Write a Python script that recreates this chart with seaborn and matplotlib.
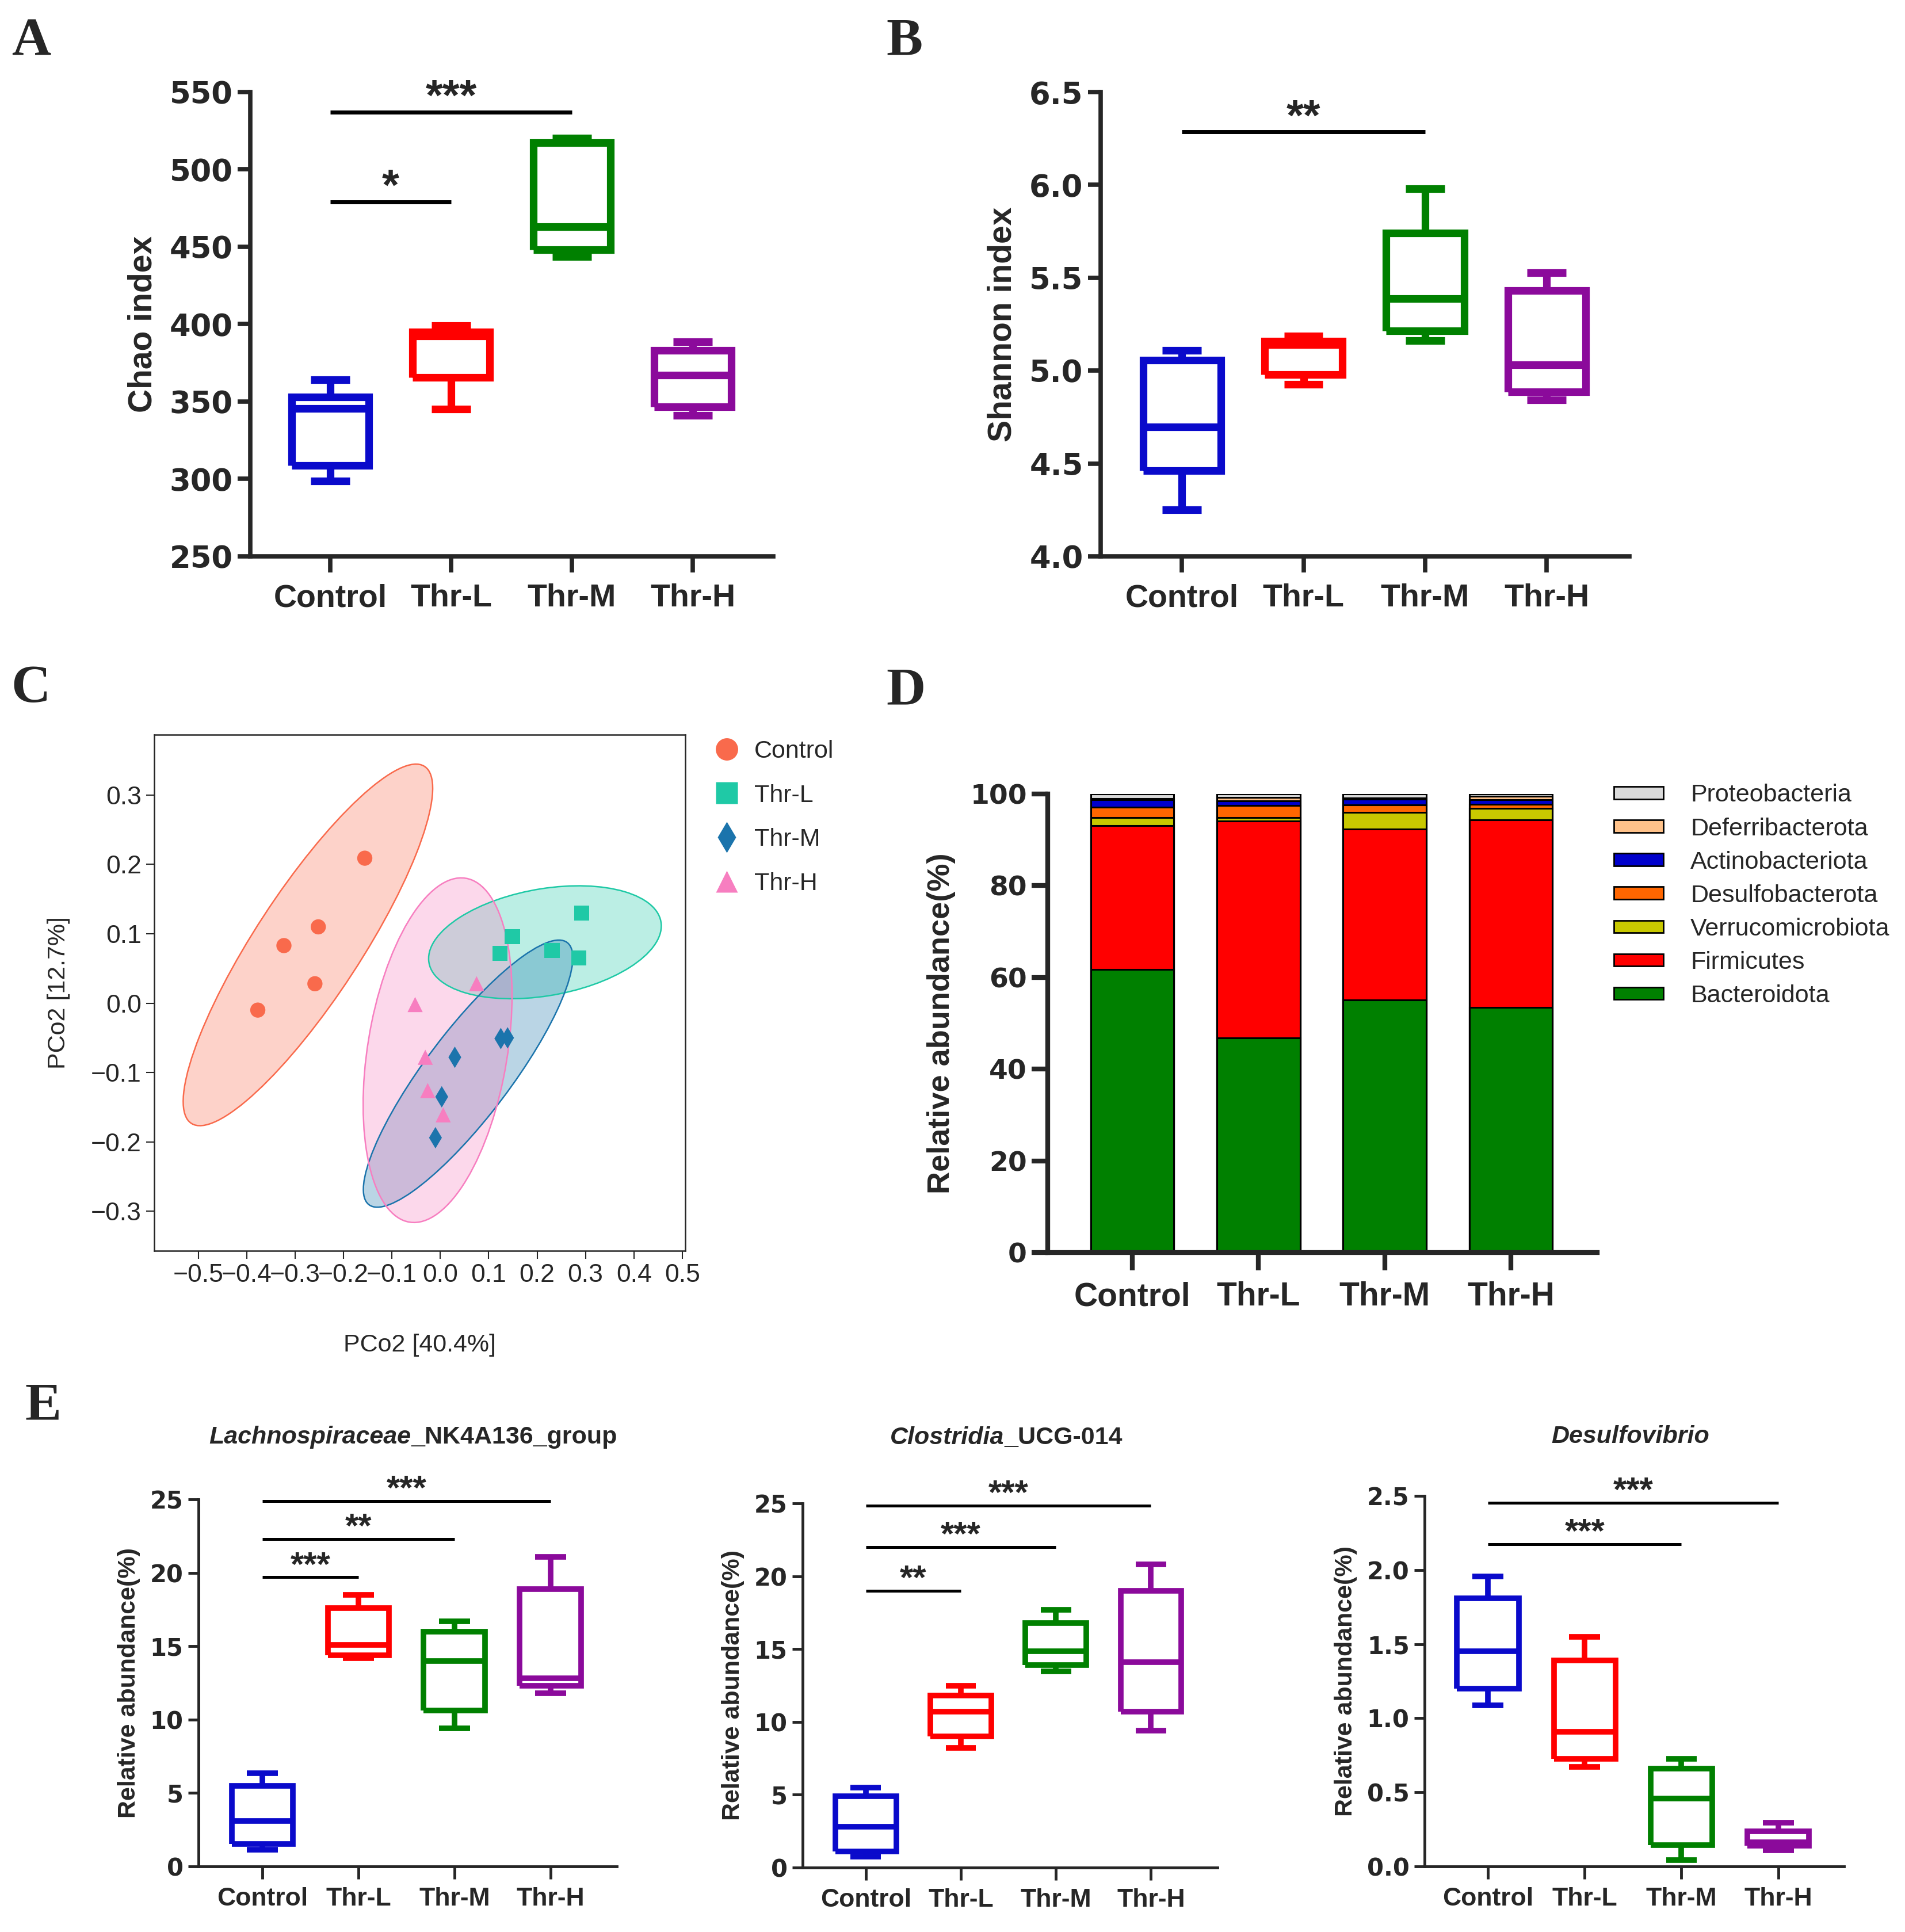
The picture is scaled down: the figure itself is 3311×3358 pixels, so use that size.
import numpy as np
import pandas as pd
import matplotlib
matplotlib.use("Agg")
import matplotlib.pyplot as plt
import seaborn as sns
from matplotlib.patches import Ellipse, Patch
from matplotlib.lines import Line2D
from matplotlib.offsetbox import TextArea, HPacker, AnchoredOffsetbox

sns.set_style("ticks")
plt.rcParams["font.family"] = ["Liberation Sans", "DejaVu Sans"]
plt.rcParams["axes.unicode_minus"] = True
NUMFONT = ["DejaVu Sans", "Liberation Sans"]

# ---------------- data ----------------
groups = ["Control", "Thr-L", "Thr-M", "Thr-H"]
box_colors = ["#0A0ACB", "#FF0000", "#008000", "#8B0A9B"]

# five readings per group: [min, Q1, median, Q3, max]
chao_control = [298.6, 308.8, 345.6, 353.0, 364.0]
chao_thrl = [345.0, 365.5, 392.4, 394.8, 399.0]
chao_thrm = [443.6, 448.0, 463.0, 517.3, 520.4]
chao_thrh = [341.0, 346.7, 367.0, 383.0, 388.7]

shannon_control = [4.252, 4.463, 4.696, 5.057, 5.109]
shannon_thrl = [4.926, 4.978, 5.140, 5.159, 5.185]
shannon_thrm = [5.163, 5.213, 5.387, 5.741, 5.980]
shannon_thrh = [4.843, 4.887, 5.033, 5.430, 5.528]

lachno_control = [1.15, 1.54, 3.1, 5.5, 6.36]
lachno_thrl = [14.2, 14.4, 15.1, 17.6, 18.5]
lachno_thrm = [9.4, 10.6, 14.0, 16.0, 16.7]
lachno_thrh = [11.8, 12.3, 12.8, 18.9, 21.1]

clost_control = [0.76, 1.1, 2.8, 4.9, 5.5]
clost_thrl = [8.2, 9.0, 10.7, 11.8, 12.5]
clost_thrm = [13.45, 13.9, 14.85, 16.8, 17.7]
clost_thrh = [9.4, 10.7, 14.1, 19.0, 20.8]

desulf_control = [1.088, 1.199, 1.453, 1.81, 1.955]
desulf_thrl = [0.67, 0.727, 0.91, 1.388, 1.55]
desulf_thrm = [0.044, 0.145, 0.458, 0.661, 0.727]
desulf_thrh = [0.109, 0.14, 0.162, 0.235, 0.296]

# significance: (group i, group j, y level, label)
sig_chao = [(0, 1, 479, "*"), (0, 2, 537, "***")]
sig_shannon = [(0, 2, 6.285, "**")]
sig_lachno = [(0, 1, 19.7, "***"), (0, 2, 22.3, "**"), (0, 3, 24.9, "***")]
sig_clost = [(0, 1, 19.0, "**"), (0, 2, 22.0, "***"), (0, 3, 24.85, "***")]
sig_desulf = [(0, 2, 2.175, "***"), (0, 3, 2.454, "***")]

# PCoA coordinates (5 samples per group)
pc_group = ["Control"] * 5 + ["Thr-L"] * 5 + ["Thr-M"] * 5 + ["Thr-H"] * 5
pc_x = [-0.156, -0.252, -0.323, -0.259, -0.377,
        0.292, 0.149, 0.123, 0.231, 0.286,
        0.125, 0.139, 0.030, 0.003, -0.010,
        0.075, -0.052, -0.031, -0.026, 0.006]
pc_y = [0.209, 0.110, 0.083, 0.028, -0.010,
        0.130, 0.096, 0.072, 0.076, 0.065,
        -0.051, -0.050, -0.078, -0.135, -0.194,
        0.028, -0.002, -0.078, -0.126, -0.161]
pc_colors = ["#F96A4C", "#1FC9A6", "#1B74AC", "#F77EC0"]
pc_markers = {"Control": "o", "Thr-L": "s", "Thr-M": "d", "Thr-H": "^"}

# relative abundance (%) of phyla, bottom to top
phyla = ["Bacteroidota", "Firmicutes", "Verrucomicrobiota", "Desulfobacterota",
         "Actinobacteriota", "Deferribacterota", "Proteobacteria"]
bacteroidota = [61.7, 46.8, 55.1, 53.4]
firmicutes = [31.4, 47.3, 37.3, 40.9]
verrucomicrobiota = [1.8, 0.8, 3.6, 2.6]
desulfobacterota = [2.2, 2.6, 1.6, 0.8]
actinobacteriota = [1.6, 1.0, 1.3, 1.0]
deferribacterota = [0.3, 0.8, 0.2, 0.8]
proteobacteria = [1.0, 0.7, 0.9, 0.5]
phyla_colors = ["#008000", "#FF0000", "#C8C800", "#FF6600", "#0000CC", "#FFC28A", "#DADADA"]

# ---------------- figure ----------------
W, H = 3311, 3358
fig = plt.figure(figsize=(W / 100, H / 100), dpi=100)


def add_ax(left, top, right, bottom):
    return fig.add_axes([left / W, 1 - bottom / H, (right - left) / W, (bottom - top) / H])


def box_panel(ax, vals, ylim, yticks, yfmt, ylabel, lw, spine_lw, box_w, fs_tick, fs_cat,
              fs_lab, labelpad, sigs, sig_lw, star_fs, star_off, xlim, ytl, xtl, xpad):
    df = pd.DataFrame({"group": np.repeat(groups, 5), "value": np.concatenate(vals)})
    sns.boxplot(data=df, x="group", y="value", hue="group", order=groups, hue_order=groups,
                palette=box_colors, fill=False, whis=(0, 100), width=box_w, linewidth=lw,
                saturation=1, legend=False, showfliers=False, ax=ax)
    for ln in ax.lines:
        ln.set_solid_joinstyle("miter")
        ln.set_solid_capstyle("butt")
    ax.set_xlim(*xlim)
    ax.set_ylim(*ylim)
    ax.set_yticks(yticks)
    ax.set_yticklabels([yfmt.format(t) for t in yticks], fontsize=fs_tick, fontweight="bold",
                       family=NUMFONT)
    ax.set_xticks(range(4))
    ax.set_xticklabels(groups, fontsize=fs_cat, fontweight="bold")
    ax.set_xlabel("")
    ax.set_ylabel(ylabel, fontsize=fs_lab, fontweight="bold", labelpad=labelpad)
    sns.despine(ax=ax)
    for s in ["left", "bottom"]:
        ax.spines[s].set_linewidth(spine_lw)
    ax.tick_params(axis="y", width=spine_lw, length=ytl, pad=6)
    ax.tick_params(axis="x", width=spine_lw, length=xtl, pad=xpad)
    for i, j, y, lab in sigs:
        ax.plot([i, j], [y, y], color="black", lw=sig_lw, clip_on=False, solid_capstyle="butt")
        ax.annotate(lab, xy=((i + j) / 2, y), xytext=(0, star_off), textcoords="offset points",
                    ha="center", va="baseline", fontsize=star_fs, fontweight="bold",
                    annotation_clip=False)


# Panel A
axA = add_ax(435, 160, 1344, 967)
box_panel(axA, [chao_control, chao_thrl, chao_thrm, chao_thrh], (250, 550),
          [250, 300, 350, 400, 450, 500, 550], "{:d}", "Chao index", 9.5, 5.5, 0.64,
          38, 40, 41, 14, sig_chao, 5, 55, 3, (-0.662, 3.667), 16, 20, 14)

# Panel B
axB = add_ax(1913, 160, 2832, 967)
box_panel(axB, [shannon_control, shannon_thrl, shannon_thrm, shannon_thrh], (4.0, 6.5),
          [4.0, 4.5, 5.0, 5.5, 6.0, 6.5], "{:.1f}", "Shannon index", 9.5, 5.5, 0.64,
          38, 40, 41, 14, sig_shannon, 5, 55, 3, (-0.668, 3.68), 16, 20, 14)

# Panel C : PCoA
axC = add_ax(268, 1277, 1191, 2174)
pcoa = pd.DataFrame({"PC1": pc_x, "PC2": pc_y, "group": pc_group})
ELL_K = 3.1
for g, col in zip(groups, pc_colors):
    sub = pcoa[pcoa.group == g]
    cov = np.cov(sub.PC1, sub.PC2)
    ev, vec = np.linalg.eigh(cov)
    order = ev.argsort()[::-1]
    ev, vec = ev[order], vec[:, order]
    ang = np.degrees(np.arctan2(vec[1, 0], vec[0, 0]))
    e = Ellipse((sub.PC1.mean(), sub.PC2.mean()), 2 * ELL_K * np.sqrt(ev[0]),
                2 * ELL_K * np.sqrt(ev[1]), angle=ang, facecolor=col, alpha=0.3,
                edgecolor="none", zorder=1)
    axC.add_patch(e)
    e2 = Ellipse((sub.PC1.mean(), sub.PC2.mean()), 2 * ELL_K * np.sqrt(ev[0]),
                 2 * ELL_K * np.sqrt(ev[1]), angle=ang, facecolor="none",
                 edgecolor=col, lw=1.8, zorder=2)
    axC.add_patch(e2)
sns.scatterplot(data=pcoa, x="PC1", y="PC2", hue="group", style="group", hue_order=groups,
                style_order=groups, markers=pc_markers, palette=pc_colors, s=360,
                edgecolor="none", legend=False, ax=axC, zorder=3)
axC.set_xlim(-0.591, 0.506)
axC.set_ylim(-0.357, 0.387)
axC.set_xticks(np.round(np.arange(-0.5, 0.51, 0.1), 1))
axC.set_yticks(np.round(np.arange(-0.3, 0.31, 0.1), 1))
axC.tick_params(labelsize=32, width=1.5, length=10, pad=6)
for s in axC.spines.values():
    s.set_linewidth(1.8)
axC.set_xlabel("PCo2 [40.4%]", fontsize=31, labelpad=58)
axC.set_ylabel("PCo2 [12.7%]", fontsize=31, labelpad=26)
c_handles = [Line2D([0], [0], marker=pc_markers[g], color="none", markerfacecolor=c,
                    markeredgecolor="none", markersize=28, label=g)
             for g, c in zip(groups, pc_colors)]
axC.legend(handles=c_handles, loc="upper left", bbox_to_anchor=(1.055, 0.99), frameon=False,
           fontsize=31, handlelength=1.0, handletextpad=0.6, labelspacing=0.85,
           borderaxespad=0, borderpad=0)

# Panel D : stacked bars
axD = add_ax(1821, 1380, 2776, 2177)
stack = np.array([bacteroidota, firmicutes, verrucomicrobiota, desulfobacterota,
                  actinobacteriota, deferribacterota, proteobacteria])
cum = np.cumsum(stack, axis=0)
for k in reversed(range(len(phyla))):
    sns.barplot(x=groups, y=cum[k], order=groups, color=phyla_colors[k], saturation=1,
                edgecolor="black", linewidth=2.2, width=0.66, ax=axD)
axD.set_xlim(-0.67, 3.684)
axD.set_ylim(0, 100)
axD.set_yticks([0, 20, 40, 60, 80, 100])
axD.set_yticklabels(["0", "20", "40", "60", "80", "100"], fontsize=34, fontweight="bold",
                    family=NUMFONT)
axD.set_xticks(range(4))
axD.set_xticklabels(groups, fontsize=41, fontweight="bold")
axD.set_xlabel("")
axD.set_ylabel("Relative abundance(%)", fontsize=39, fontweight="bold", labelpad=18)
sns.despine(ax=axD)
for s in ["left", "bottom"]:
    axD.spines[s].set_linewidth(6)
axD.tick_params(axis="y", width=6, length=20, pad=6)
axD.tick_params(axis="x", width=6, length=22, pad=14)
d_handles = [Patch(facecolor=phyla_colors[k], edgecolor="black", linewidth=2, label=phyla[k])
             for k in reversed(range(len(phyla)))]
axD.legend(handles=d_handles, loc="upper left", bbox_to_anchor=(1.03, 1.022), frameon=False,
           fontsize=31, handlelength=2.0, handleheight=0.4, handletextpad=1.1,
           labelspacing=0.42, borderaxespad=0, borderpad=0)

# Panel E
e_specs = [
    ((345, 2606, 1072, 3244), [lachno_control, lachno_thrl, lachno_thrm, lachno_thrh], (0, 25),
     [0, 5, 10, 15, 20, 25], "{:d}", sig_lachno, (-0.665, 3.69),
     ("Lachnospiraceae", "_NK4A136_group"), (0.513, 1.17)),
    ((1395, 2613, 2116, 3246), [clost_control, clost_thrl, clost_thrm, clost_thrh], (0, 25),
     [0, 5, 10, 15, 20, 25], "{:d}", sig_clost, (-0.665, 3.70),
     ("Clostridia", "_UCG-014"), (0.491, 1.18)),
    ((2476, 2600, 3205, 3244), [desulf_control, desulf_thrl, desulf_thrm, desulf_thrh],
     (0, 2.5), [0.0, 0.5, 1.0, 1.5, 2.0, 2.5], "{:.1f}", sig_desulf, (-0.655, 3.68),
     ("Desulfovibrio", ""), (0.49, 1.16)),
]
for box, vals, ylim, yt, fmt, sigs, xlim, title, tpos in e_specs:
    ax = add_ax(*box)
    box_panel(ax, vals, ylim, yt, fmt, "Relative abundance(%)", 7, 3.5, 0.64,
              30, 32, 31, 12, sigs, 3.6, 43, 2, xlim, 13, 16, 10)
    parts = [TextArea(title[0], textprops=dict(fontsize=31, fontweight="bold",
                                               fontstyle="italic"))]
    if title[1]:
        parts.append(TextArea(title[1], textprops=dict(fontsize=31, fontweight="bold")))
    pack = HPacker(children=parts, pad=0, sep=0, align="baseline")
    ab = AnchoredOffsetbox(loc="center", child=pack, bbox_to_anchor=tpos,
                           bbox_transform=ax.transAxes, frameon=False, pad=0, borderpad=0)
    ax.add_artist(ab)

# panel letters
for lab, x, y in [("A", 20, 95), ("B", 1540, 95), ("C", 19, 1220), ("D", 1540, 1224),
                  ("E", 43, 2467)]:
    fig.text(x / W, 1 - y / H, lab, fontsize=68, fontweight="bold",
             family=["Liberation Serif", "DejaVu Serif"], ha="left", va="baseline")

fig.savefig("out.png", dpi=100, facecolor="white")
